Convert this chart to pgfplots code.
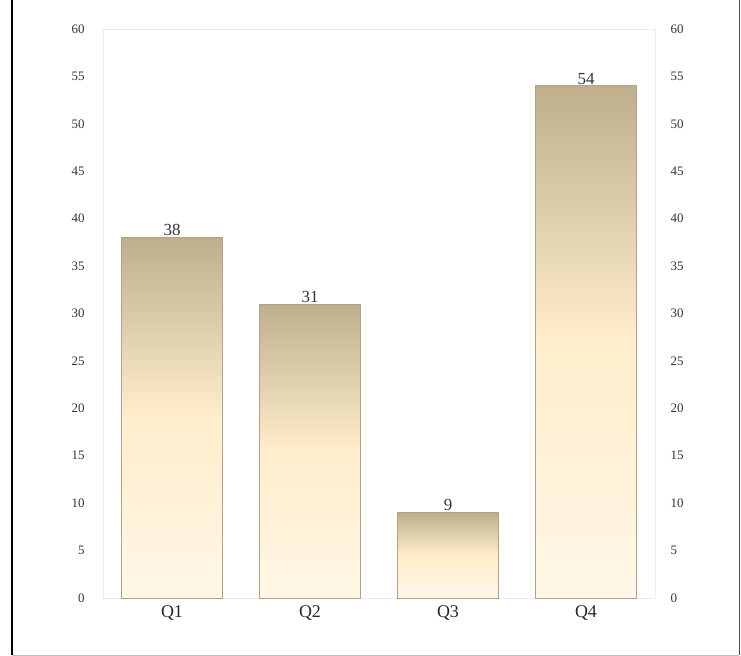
\documentclass[border=0pt]{standalone}
\usepackage{fontspec}
\setmainfont{Liberation Serif}
\usepackage{pgfplots}
\pgfplotsset{compat=1.18}
\definecolor{bartop}{HTML}{BFAF8C}
\definecolor{barmid}{HTML}{FFEDCB}
\definecolor{barbot}{HTML}{FFF7E7}
\definecolor{baredge}{HTML}{B0A387}
\definecolor{tickc}{HTML}{333333}
\definecolor{framec}{HTML}{ECECEC}
\begin{document}
\begin{tikzpicture}[x=1bp,y=1bp]
\useasboundingbox (0,0) rectangle (741,-656);
\begin{axis}[
  at={(103bp,-598bp)}, anchor=south west,
  scale only axis, width=552bp, height=569bp,
  xmin=-0.5, xmax=3.5, ymin=0, ymax=60,
  ybar, bar width=101bp, bar shift=0pt,
  xtick={0,1,2,3}, xticklabels={Q1,Q2,Q3,Q4},
  ytick={0,5,...,60},
  major tick length=0,
  axis line style={framec, line width=0.8bp},
  /pgf/number format/assume math mode=true,
  yticklabel style={font=\fontsize{13}{13}\selectfont, text=tickc, xshift=-15bp},
  xticklabel style={font=\fontsize{18}{18}\selectfont, text=black!85, yshift=-4bp},
  nodes near coords,
  nodes near coords style={font=\fontsize{17}{17}\selectfont, text=tickc, inner sep=1bp},
  barstyle/.style={draw=baredge, line width=1bp, top color=bartop, bottom color=barbot, middle color=barmid},
]
\addplot[barstyle] coordinates {(0,38)};
\addplot[barstyle] coordinates {(1,31)};
\addplot[barstyle] coordinates {(2,9)};
\addplot[barstyle] coordinates {(3,54)};
\end{axis}
\begin{axis}[
  at={(103bp,-598bp)}, anchor=south west,
  scale only axis, width=552bp, height=569bp,
  xmin=-0.5, xmax=3.5, ymin=0, ymax=60,
  axis x line=none, axis y line*=right,
  axis line style={draw=none},
  ytick={0,5,...,60},
  major tick length=0,
  /pgf/number format/assume math mode=true,
  yticklabel style={font=\fontsize{13}{13}\selectfont, text=tickc, xshift=12bp},
]
\addplot[draw=none] coordinates {(0,0)};
\end{axis}
\draw[line width=2bp, black] (12,2) -- (12,-655);
\draw[line width=1bp, black!70] (739,2) -- (739,-655);
\draw[line width=1bp, black!25] (12,-655) -- (739,-655);
\end{tikzpicture}
\end{document}
